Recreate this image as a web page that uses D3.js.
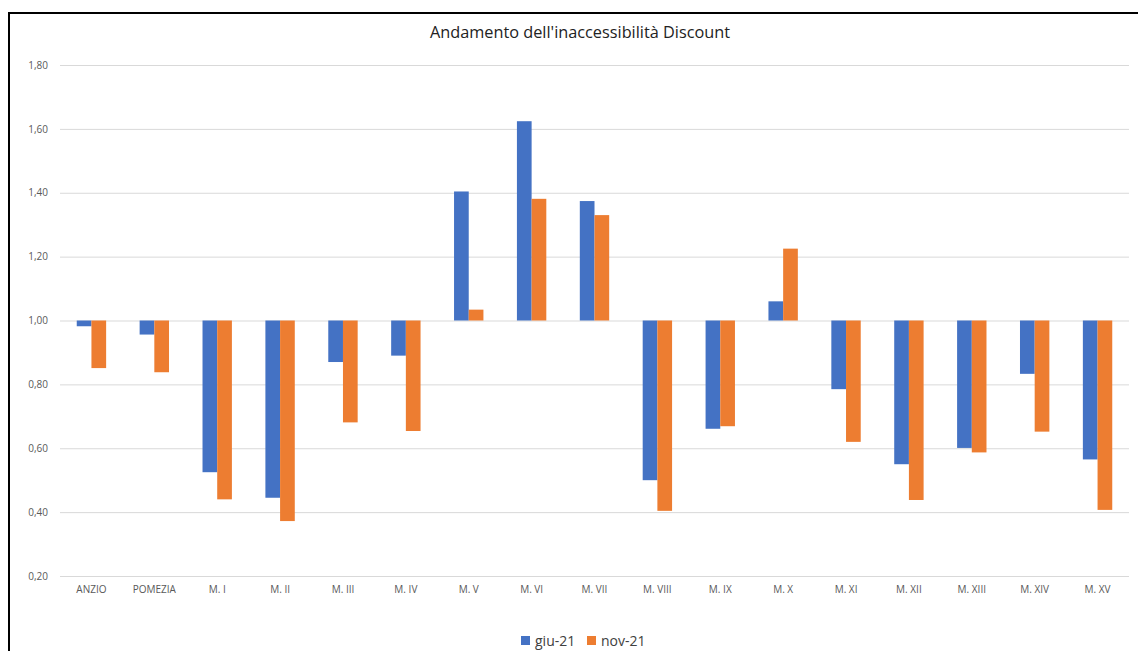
<!DOCTYPE html>
<html>
<head>
<meta charset="utf-8">
<script src="https://cdn.jsdelivr.net/npm/d3@7"></script>
<style>
  html, body { margin: 0; padding: 0; background: #fff; }
  svg { display: block; }
</style>
</head>
<body>
<svg id="chart" width="1138" height="651"></svg>
<script>
const title = "Andamento dell'inaccessibilità Discount";
const categories = ["ANZIO","POMEZIA","M. I","M. II","M. III","M. IV","M. V","M. VI","M. VII","M. VIII","M. IX","M. X","M. XI","M. XII","M. XIII","M. XIV","M. XV"];
const seriesNames = ["giu-21","nov-21"];
const giu21 = [0.982,0.956,0.525,0.445,0.870,0.890,1.404,1.624,1.374,0.500,0.661,1.060,0.785,0.550,0.601,0.833,0.565];
const nov21 = [0.851,0.838,0.440,0.372,0.681,0.654,1.034,1.381,1.330,0.404,0.669,1.225,0.620,0.438,0.587,0.652,0.407];
const yTicks = [0.2,0.4,0.6,0.8,1.0,1.2,1.4,1.6,1.8];
const baseline = 1.0;
const colors = ["#4472C4","#ED7D31"];

const svg = d3.select("#chart");
const font = "'Open Sans', 'Noto Sans', sans-serif";

// outer frame
svg.append("rect").attr("x",9).attr("y",13).attr("width",1200).attr("height",700)
  .attr("fill","none").attr("stroke","#000").attr("stroke-width",2);

const plotLeft = 60, plotRight = 1129, plotTop = 65, plotBottom = 576;
const y = d3.scaleLinear().domain([0.2,1.8]).range([plotBottom, plotTop]);
const x = d3.scaleBand().domain(categories).range([plotLeft, plotRight]).paddingInner(0).paddingOuter(0);
const inner = d3.scaleBand().domain(seriesNames).range([0, x.bandwidth()]).paddingInner(0).paddingOuter(1.14);

// gridlines
svg.append("g").selectAll("line").data(yTicks).join("line")
  .attr("x1",plotLeft).attr("x2",plotRight)
  .attr("y1",d=>y(d)+0.5).attr("y2",d=>y(d)+0.5)
  .attr("stroke","#d9d9d9").attr("stroke-width",1);

// y axis labels
const fmt = d => d3.format(".2f")(d).replace(".", ",");
const yAxis = d3.axisLeft(y).tickValues(yTicks).tickFormat(fmt).tickSize(0).tickPadding(12);
const yg = svg.append("g").attr("transform",`translate(${plotLeft},0)`).call(yAxis);
yg.select(".domain").remove();
yg.selectAll("text").attr("font-family",font).attr("font-size","10px").attr("fill","#595959");

// bars
const data = [giu21, nov21];
data.forEach((vals, si) => {
  svg.append("g").selectAll("rect").data(vals).join("rect")
    .attr("x",(d,i)=>x(categories[i]) + inner(seriesNames[si]))
    .attr("width",inner.bandwidth())
    .attr("y",d=>Math.min(y(d), y(baseline)))
    .attr("height",d=>Math.abs(y(d)-y(baseline)))
    .attr("fill",colors[si]);
});

// x axis labels
const xAxis = d3.axisBottom(x).tickSize(0).tickPadding(10);
const xg = svg.append("g").attr("transform",`translate(0,${plotBottom})`).call(xAxis);
xg.select(".domain").remove();
xg.selectAll("text").attr("font-family",font).attr("font-size","10px").attr("fill","#595959");

// title
svg.append("text").attr("x",580).attr("y",38).attr("text-anchor","middle")
  .attr("font-family",font).attr("font-size","16.3px").attr("fill","#222")
  .text(title);

// legend
const legendItems = [{name:seriesNames[0], x:521},{name:seriesNames[1], x:587}];
const lg = svg.append("g");
legendItems.forEach((it, i) => {
  lg.append("rect").attr("x",it.x).attr("y",636).attr("width",9).attr("height",9).attr("fill",colors[i]);
  lg.append("text").attr("x",it.x+14).attr("y",646).attr("font-family",font).attr("font-size","14px")
    .attr("fill","#404040").text(it.name);
});
</script>
</body>
</html>
